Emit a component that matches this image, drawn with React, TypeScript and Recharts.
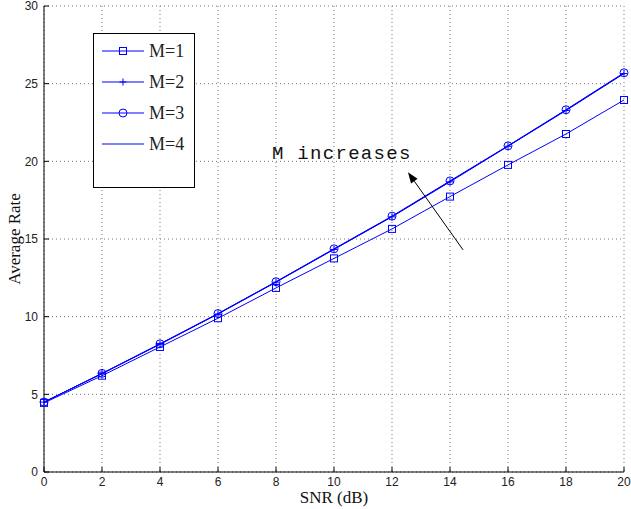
import React from 'react';
import {
  LineChart, Line, XAxis, YAxis, CartesianGrid, Legend, ReferenceLine, ReferenceDot,
} from 'recharts';

const snr = [0, 2, 4, 6, 8, 10, 12, 14, 16, 18, 20];
const m1 = [4.45, 6.2, 8.05, 9.9, 11.85, 13.75, 15.65, 17.73, 19.77, 21.76, 23.95];
const m2 = [4.5, 6.33, 8.22, 10.17, 12.22, 14.33, 16.43, 18.68, 20.97, 23.27, 25.65];
const m3 = [4.5, 6.35, 8.25, 10.2, 12.25, 14.37, 16.47, 18.74, 21.0, 23.32, 25.7];
const m4 = [4.5, 6.34, 8.24, 10.19, 12.24, 14.35, 16.45, 18.71, 20.99, 23.3, 25.68];
const xTicks = [0, 2, 4, 6, 8, 10, 12, 14, 16, 18, 20];
const yTicks = [0, 5, 10, 15, 20, 25, 30];
const names = ['M=1', 'M=2', 'M=3', 'M=4'];

const data = snr.map((s, i) => ({ snr: s, m1: m1[i], m2: m2[i], m3: m3[i], m4: m4[i] }));

const BLUE = '#0000ff';

const Square = (props: any) => {
  const { cx, cy } = props;
  if (cx == null || cy == null) return <g />;
  return <rect x={cx - 3.5} y={cy - 3.5} width={7} height={7} fill="none" stroke={BLUE} strokeWidth={1} />;
};
const Plus = (props: any) => {
  const { cx, cy } = props;
  if (cx == null || cy == null) return <g />;
  return (
    <g stroke={BLUE} strokeWidth={1}>
      <line x1={cx - 3.5} y1={cy} x2={cx + 3.5} y2={cy} />
      <line x1={cx} y1={cy - 3.5} x2={cx} y2={cy + 3.5} />
    </g>
  );
};
const Circle = (props: any) => {
  const { cx, cy } = props;
  if (cx == null || cy == null) return <g />;
  return <circle cx={cx} cy={cy} r={4} fill="none" stroke={BLUE} strokeWidth={1} />;
};

const markers = [Square, Plus, Circle, null];

const LegendBox = () => (
  <div style={{
    width: 102, height: 155, border: '1px solid #000', background: '#fff', boxSizing: 'border-box',
  }}>
    <svg width={100} height={153}>
      {names.map((n, i) => {
        const y = 17 + i * 31;
        const M = markers[i];
        return (
          <g key={n}>
            <line x1={8} y1={y} x2={50} y2={y} stroke={BLUE} strokeWidth={1} />
            {M && <M cx={29} cy={y} />}
            <text x={55} y={y + 6} fontFamily="Liberation Serif, serif" fontSize={18} fill="#222">{n}</text>
          </g>
        );
      })}
    </svg>
  </div>
);

const Arrow = (props: any) => {
  const { x1, y1, x2, y2 } = props;
  if (x1 == null) return <g />;
  const ang = Math.atan2(y2 - y1, x2 - x1);
  const len = 11;
  const w = 4;
  const bx = x2 - len * Math.cos(ang);
  const by = y2 - len * Math.sin(ang);
  const px = -Math.sin(ang) * w;
  const py = Math.cos(ang) * w;
  return (
    <g>
      <line x1={x1} y1={y1} x2={bx} y2={by} stroke="#000" strokeWidth={1} />
      <polygon points={`${x2},${y2} ${bx + px},${by + py} ${bx - px},${by - py}`} fill="#000" />
    </g>
  );
};

const Label = (props: any) => {
  const { cx, cy } = props;
  if (cx == null) return <g />;
  return (
    <text x={cx} y={cy} fontFamily="Liberation Mono, monospace" fontSize={19} letterSpacing={1.3} fill="#111">
      M increases
    </text>
  );
};

const tickStyle = { fontSize: 12, fontFamily: 'Liberation Sans, Arial, sans-serif', fill: '#222' };
const noTick = () => <g />;

export default function App() {
  return (
    <div style={{ position: 'absolute', left: 0, top: 0, background: '#fff' }}>
      <LineChart width={631} height={509} data={data} margin={{ top: 6, right: 7, left: 0, bottom: 0 }}>
        <CartesianGrid stroke="#777" strokeDasharray="1 3" />
        <XAxis
          dataKey="snr" type="number" domain={[0, 20]} ticks={xTicks} height={37}
          axisLine={{ stroke: '#000' }} tickLine={{ stroke: '#000' }} tickSize={-5} tickMargin={10}
          tick={tickStyle} interval={0}
          label={{ value: 'SNR (dB)', position: 'insideBottom', offset: 6, style: { fontFamily: 'Liberation Serif, serif', fontSize: 17, fill: '#111' } }}
        />
        <XAxis
          xAxisId="top" orientation="top" dataKey="snr" type="number" domain={[0, 20]} ticks={xTicks} height={0}
          axisLine={{ stroke: '#000' }} tickLine={{ stroke: '#000' }} tickSize={-5} tick={noTick} interval={0}
        />
        <YAxis
          type="number" domain={[0, 30]} ticks={yTicks} width={44}
          axisLine={{ stroke: '#000' }} tickLine={{ stroke: '#000' }} tickSize={-5} tickMargin={11}
          tick={tickStyle} interval={0}
          label={{ value: 'Average Rate', angle: -90, position: 'insideLeft', offset: 14, style: { textAnchor: 'middle', fontFamily: 'Liberation Serif, serif', fontSize: 17, fill: '#111' } }}
        />
        <YAxis
          yAxisId="right" orientation="right" type="number" domain={[0, 30]} ticks={yTicks} width={0}
          axisLine={{ stroke: '#000' }} tickLine={{ stroke: '#000' }} tickSize={-5} tick={noTick} interval={0}
        />
        <Legend
          layout="horizontal" verticalAlign="middle" align="center"
          wrapperStyle={{ position: 'absolute', left: 93, top: 33, width: 102, height: 155 }}
          content={() => <LegendBox />}
        />
        <Line dataKey="m1" stroke={BLUE} strokeWidth={1} dot={<Square />} isAnimationActive={false} />
        <Line dataKey="m2" stroke={BLUE} strokeWidth={1} dot={<Plus />} isAnimationActive={false} />
        <Line dataKey="m3" stroke={BLUE} strokeWidth={1} dot={<Circle />} isAnimationActive={false} />
        <Line dataKey="m4" stroke={BLUE} strokeWidth={1} dot={false} isAnimationActive={false} />
        <ReferenceLine segment={[{ x: 14.45, y: 14.3 }, { x: 12.55, y: 19.3 }]} shape={<Arrow />} />
        <ReferenceDot x={7.86} y={20.15} r={0} shape={<Label />} />
      </LineChart>
    </div>
  );
}
